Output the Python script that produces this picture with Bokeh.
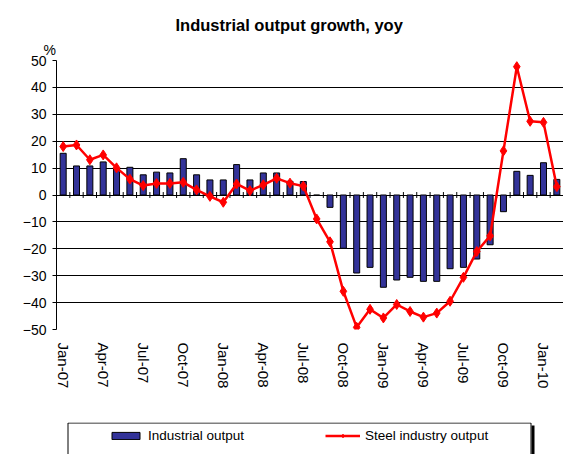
import numpy as np
from bokeh.plotting import figure
from bokeh.layouts import column
from bokeh.models import FixedTicker, Legend, LegendItem, Title, Range1d
from bokeh.embed import file_html
from bokeh.resources import INLINE

categories = ["Jan-07", "Feb-07", "Mar-07", "Apr-07", "May-07", "Jun-07", "Jul-07", "Aug-07",
              "Sep-07", "Oct-07", "Nov-07", "Dec-07", "Jan-08", "Feb-08", "Mar-08", "Apr-08",
              "May-08", "Jun-08", "Jul-08", "Aug-08", "Sep-08", "Oct-08", "Nov-08", "Dec-08",
              "Jan-09", "Feb-09", "Mar-09", "Apr-09", "May-09", "Jun-09", "Jul-09", "Aug-09",
              "Sep-09", "Oct-09", "Nov-09", "Dec-09", "Jan-10", "Feb-10"]
industrial = [15.5, 10.8, 10.8, 12.3, 10.0, 10.3, 7.5, 8.5, 8.2, 13.5, 7.5, 5.6,
              5.6, 11.3, 5.6, 8.2, 8.2, 5.1, 5.0, -0.1, -4.6, -19.8, -29.0, -26.9,
              -34.3, -31.6, -30.6, -32.1, -32.1, -27.4, -26.9, -23.8, -18.5, -6.2, 8.8, 7.3,
              12.0, 5.8]
steel = [18.0, 18.6, 13.1, 14.9, 10.1, 5.9, 3.5, 4.3, 4.3, 4.7, 1.9, -0.5,
         -2.7, 4.1, 1.6, 3.8, 6.2, 4.4, 3.3, -8.9, -17.4, -35.8, -49.2, -42.5,
         -45.7, -40.7, -43.3, -45.4, -43.9, -39.5, -30.6, -21.0, -15.2, 16.4, 47.7, 27.4,
         27.0, 3.1]
y_ticks = [-50, -40, -30, -20, -10, 0, 10, 20, 30, 40, 50]
label_every = 3
series_names = ["Industrial output", "Steel industry output"]

FONT = "Liberation Sans"
BAR_COLOR = "#333399"
LINE_COLOR = "#FF0000"
n = len(categories)
idx = np.arange(n)

W, H_MAIN, H_LEG = 563, 422, 32
LEFT = 56

# ---------------- main chart ----------------
p = figure(width=W, height=H_MAIN, output_backend="svg", toolbar_location=None, title=None,
           x_range=Range1d(-0.5, n - 0.5), y_range=Range1d(y_ticks[0], y_ticks[-1]),
           min_border_left=LEFT, min_border_right=0, min_border_top=60, min_border_bottom=93)
p.outline_line_color = None
p.background_fill_color = "white"
p.border_fill_color = "white"

pct = Title(text="%", align="left", offset=-13, standoff=5, text_font=FONT,
            text_font_size="14px", text_font_style="normal", text_color="black")
p.add_layout(pct, "above")
main_title = Title(text="Industrial output growth, yoy", align="left", offset=119, standoff=8,
                   text_font=FONT, text_font_size="16.5px", text_font_style="bold",
                   text_color="black")
p.add_layout(main_title, "above")

# grid
p.xgrid.grid_line_color = None
p.ygrid.grid_line_color = "black"
p.ygrid.grid_line_width = 1
p.ygrid.ticker = FixedTicker(ticks=y_ticks)

# y axis
p.yaxis.ticker = FixedTicker(ticks=y_ticks)
p.yaxis.axis_line_color = "black"
p.yaxis.major_tick_line_color = "black"
p.yaxis.major_tick_out = 4
p.yaxis.major_tick_in = 0
p.yaxis.minor_tick_line_color = None
p.yaxis.major_label_text_font = FONT
p.yaxis.major_label_text_font_size = "14px"
p.yaxis.major_label_text_color = "black"
p.yaxis.major_label_standoff = 6

# x axis
xt = list(idx[::label_every])
p.xaxis.ticker = FixedTicker(ticks=xt)
p.xaxis.major_label_overrides = {int(i): categories[int(i)] for i in xt}
p.xaxis.major_label_orientation = "vertical"
p.xaxis.axis_line_color = None
p.xaxis.major_tick_line_color = None
p.xaxis.minor_tick_line_color = None
p.xaxis.major_label_text_font = FONT
p.xaxis.major_label_text_font_size = "15px"
p.xaxis.major_label_text_color = "black"
p.xaxis.major_label_standoff = 7

# bars
p.vbar(x=idx, top=industrial, width=0.45, fill_color=BAR_COLOR,
       line_color="black", line_width=1)

# category ticks on the zero line
bnd = np.arange(n + 1) - 0.5
p.segment(x0=bnd, y0=-1.1, x1=bnd, y1=1.1, line_color="black", line_width=1)

# steel line
p.line(idx, steel, line_color=LINE_COLOR, line_width=2.5)
p.scatter(idx, steel, marker="diamond", size=10, fill_color=LINE_COLOR, line_color=LINE_COLOR)

# ---------------- legend strip (x/y in page pixels) ----------------
q = figure(width=W, height=H_LEG, output_backend="svg", toolbar_location=None,
           x_axis_type=None, y_axis_type=None, x_range=Range1d(LEFT, W),
           y_range=Range1d(0, H_LEG), min_border_left=LEFT, min_border_right=0,
           min_border_top=0, min_border_bottom=0)
q.outline_line_color = None
q.xgrid.grid_line_color = None
q.ygrid.grid_line_color = None

# legend frame with shadow on the right
q.multi_line(xs=[[67.5, 67.5, 530.5, 530.5]], ys=[[-5, 31.5, 31.5, -5]],
             line_color="black", line_width=1)
q.quad(left=[531], right=[534], top=[29], bottom=[-5], fill_color="black", line_color=None)

# legend-only renderers (placed outside the visible range)
lb = q.vbar(x=[0], top=[0], bottom=[0], width=1, fill_color=BAR_COLOR, line_color="black",
            line_width=1)
ll = q.line(x=[0, 1], y=[0, 0], line_color=LINE_COLOR, line_width=2.5)
lm = q.scatter(x=[0], y=[0], marker="diamond", size=10, fill_color=LINE_COLOR,
               line_color=LINE_COLOR)

legend = Legend(items=[LegendItem(label=series_names[0], renderers=[lb]),
                       LegendItem(label=series_names[1], renderers=[ll, lm])],
                orientation="horizontal", location=(108 - LEFT, 11),
                padding=0, spacing=81, label_standoff=5, glyph_width=35, glyph_height=9,
                label_height=14, label_text_font=FONT, label_text_font_size="13.5px",
                label_text_color="black",
                border_line_color=None, background_fill_alpha=0, margin=0)
q.add_layout(legend, "center")

layout = column(p, q, spacing=0)
open("out.html", "w").write(file_html(layout, INLINE))
